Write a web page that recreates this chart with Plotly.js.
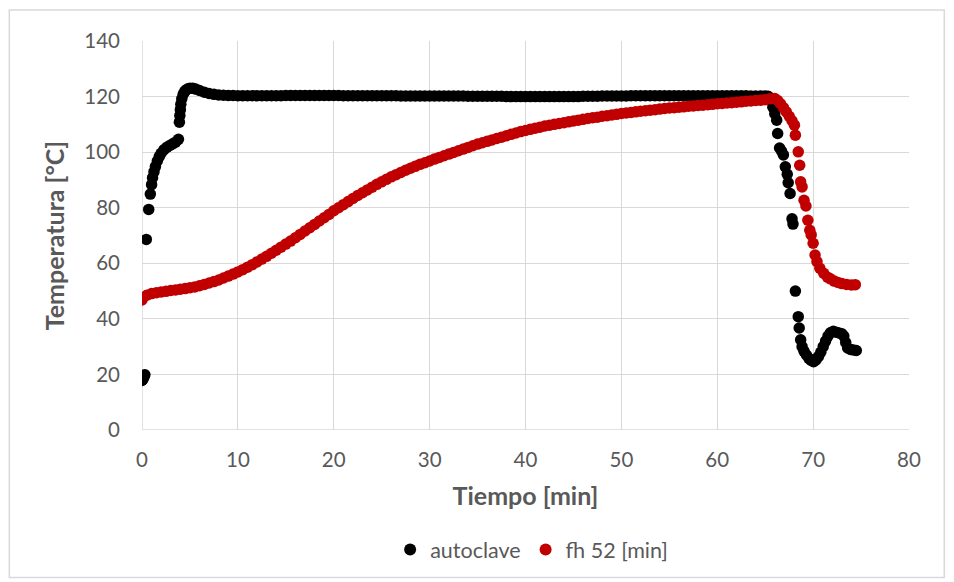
<!DOCTYPE html>
<html>
<head>
<meta charset="utf-8">
<script src="https://cdn.plot.ly/plotly-3.0.1.min.js"></script>
<style>
  html, body { margin: 0; padding: 0; background: #ffffff; }
  #chart { width: 954px; height: 582px; }
</style>
</head>
<body>
<div id="chart"></div>
<script>
// ---- Data ----
const seriesNames = ["autoclave", "fh 52 [min]"];

const autoclaveTime = [
  0, 0.1, 0.2, 0.3, 0.45, 0.7, 0.87, 1.0, 1.1, 1.25, 1.4, 1.6, 1.8, 2.0, 2.3, 2.6, 2.9, 3.2, 3.5, 3.8,
  3.9, 3.95, 4.0, 4.05, 4.15, 4.3, 4.45, 4.6, 4.8, 5.0, 5.3, 5.6, 6.0, 6.5, 7.0, 7.5, 8.0, 8.5,
  9, 9.5, 10, 10.5, 11, 11.5, 12, 12.5, 13, 13.5, 14, 14.5, 15, 15.5, 16, 16.5, 17, 17.5, 18, 18.5,
  19, 19.5, 20, 20.5, 21, 21.5, 22, 22.5, 23, 23.5, 24, 24.5, 25, 25.5, 26, 26.5, 27, 27.5, 28, 28.5,
  29, 29.5, 30, 30.5, 31, 31.5, 32, 32.5, 33, 33.5, 34, 34.5, 35, 35.5, 36, 36.5, 37, 37.5, 38, 38.5,
  39, 39.5, 40, 40.5, 41, 41.5, 42, 42.5, 43, 43.5, 44, 44.5, 45, 45.5, 46, 46.5, 47, 47.5, 48, 48.5,
  49, 49.5, 50, 50.5, 51, 51.5, 52, 52.5, 53, 53.5, 54, 54.5, 55, 55.5, 56, 56.5, 57, 57.5, 58, 58.5,
  59, 59.5, 60, 60.5, 61, 61.5, 62, 62.5, 63, 63.5, 64, 64.5, 65,
  65.3, 65.6, 65.8, 66.0, 66.2, 66.3, 66.5, 66.7, 66.9, 67.1, 67.3, 67.4, 67.6, 67.8, 67.9,
  68.15, 68.45, 68.55, 68.7, 68.85, 69.05, 69.3, 69.55, 69.8, 70.05, 70.3, 70.55, 70.8, 71.05,
  71.3, 71.55, 71.8, 72.1, 72.4, 72.7, 73.0, 73.2, 73.4, 73.6, 73.9, 74.2, 74.5
];
const autoclaveTemp = [
  17.8, 18.3, 19.0, 19.9, 68.6, 79.4, 84.9, 88.3, 90.8, 92.9, 94.8, 96.8, 98.4, 99.6, 100.9, 101.8, 102.4, 103.0, 103.6, 104.6,
  110.8, 113.2, 115.3, 117.2, 119.2, 120.8, 121.8, 122.4, 122.8, 123.0, 123.0, 122.7, 122.2, 121.6, 121.1, 120.8, 120.6, 120.5,
  120.4, 120.4, 120.3, 120.3, 120.3, 120.3, 120.3, 120.3, 120.3, 120.3, 120.3, 120.3, 120.4, 120.4, 120.4, 120.4, 120.4, 120.4, 120.4, 120.4,
  120.4, 120.4, 120.4, 120.4, 120.3, 120.3, 120.3, 120.3, 120.3, 120.3, 120.3, 120.3, 120.3, 120.3, 120.3, 120.3, 120.2, 120.2, 120.2, 120.2,
  120.2, 120.2, 120.2, 120.2, 120.2, 120.2, 120.2, 120.2, 120.2, 120.2, 120.1, 120.1, 120.1, 120.1, 120.1, 120.1, 120.1, 120.1, 120.0, 120.0,
  120.0, 120.0, 120.0, 120.0, 120.0, 120.0, 120.0, 120.0, 120.0, 120.0, 120.0, 120.0, 120.0, 120.0, 120.1, 120.1, 120.1, 120.1, 120.2, 120.2,
  120.2, 120.2, 120.2, 120.2, 120.3, 120.3, 120.3, 120.3, 120.3, 120.3, 120.3, 120.3, 120.3, 120.3, 120.3, 120.3, 120.3, 120.3, 120.3, 120.3,
  120.3, 120.3, 120.3, 120.3, 120.3, 120.3, 120.3, 120.3, 120.3, 120.2, 120.2, 120.2, 120.2,
  120.1, 118.5, 116.2, 113.8, 111.5, 106.7, 101.5, 100.4, 99.0, 94.7, 92.0, 89.0, 85.1, 76.0, 74.1,
  50.0, 40.8, 36.7, 32.5, 30.0, 28.3, 27.0, 25.8, 25.0, 24.6, 25.2, 26.4, 28.0, 30.0,
  32.0, 33.8, 35.0, 35.5, 35.2, 34.9, 34.6, 33.8, 31.5, 29.5, 29.0, 28.8, 28.6
];

const fhTime = [
  0, 0.5, 1, 1.5, 2, 2.5, 3, 3.5, 4, 4.5, 5, 5.5, 6, 6.5, 7, 7.5, 8, 8.5, 9, 9.5,
  10, 10.5, 11, 11.5, 12, 12.5, 13, 13.5, 14, 14.5, 15, 15.5, 16, 16.5, 17, 17.5, 18, 18.5, 19, 19.5,
  20, 20.5, 21, 21.5, 22, 22.5, 23, 23.5, 24, 24.5, 25, 25.5, 26, 26.5, 27, 27.5, 28, 28.5, 29, 29.5,
  30, 30.5, 31, 31.5, 32, 32.5, 33, 33.5, 34, 34.5, 35, 35.5, 36, 36.5, 37, 37.5, 38, 38.5, 39, 39.5,
  40, 40.5, 41, 41.5, 42, 42.5, 43, 43.5, 44, 44.5, 45, 45.5, 46, 46.5, 47, 47.5, 48, 48.5, 49, 49.5,
  50, 50.5, 51, 51.5, 52, 52.5, 53, 53.5, 54, 54.5, 55, 55.5, 56, 56.5, 57, 57.5, 58, 58.5, 59, 59.5,
  60, 60.5, 61, 61.5, 62, 62.5, 63, 63.5, 64, 64.5, 65, 65.5,
  66.0, 66.3, 66.6, 66.9, 67.2, 67.5, 67.8, 68.05, 68.15, 68.45, 68.6, 68.7, 68.85, 69.05, 69.25, 69.45,
  69.65, 69.8, 70.0, 70.2, 70.4, 70.7, 71.1, 71.5, 71.8, 72.2, 72.6, 73.0, 73.5, 74.0, 74.4
];
const fhTemp = [
  46.8, 48.5, 49.1, 49.4, 49.7, 49.9, 50.2, 50.4, 50.7, 50.9, 51.2, 51.5, 51.9, 52.4, 52.9, 53.4, 54.0, 54.7, 55.4, 56.1,
  56.9, 57.7, 58.6, 59.5, 60.5, 61.5, 62.5, 63.6, 64.7, 65.8, 66.9, 68.0, 69.2, 70.4, 71.6, 72.8, 74.0, 75.2, 76.4, 77.6,
  78.9, 80.0, 81.1, 82.2, 83.3, 84.4, 85.4, 86.4, 87.4, 88.4, 89.3, 90.2, 91.1, 91.9, 92.7, 93.5, 94.2, 94.9, 95.6, 96.2,
  96.8, 97.5, 98.1, 98.7, 99.3, 99.9, 100.5, 101.1, 101.7, 102.3, 102.9, 103.4, 103.9, 104.4, 104.9, 105.4, 105.9, 106.4, 106.9, 107.4,
  107.8, 108.2, 108.6, 109.0, 109.4, 109.7, 110.0, 110.3, 110.6, 110.9, 111.2, 111.5, 111.8, 112.1, 112.4, 112.6, 112.9, 113.1, 113.4, 113.6,
  113.9, 114.1, 114.3, 114.5, 114.7, 114.9, 115.1, 115.3, 115.5, 115.7, 115.9, 116.0, 116.2, 116.3, 116.5, 116.6, 116.8, 116.9, 117.1, 117.2,
  117.4, 117.5, 117.7, 117.8, 118.0, 118.1, 118.3, 118.4, 118.6, 118.7, 118.9, 119.2,
  119.3, 118.6, 117.4, 116.0, 114.5, 112.9, 111.3, 109.7, 106.1, 100.1, 95.3, 89.3, 87.5, 82.7, 80.6, 75.5,
  71.9, 70.2, 67.2, 63.0, 60.6, 58.2, 56.4, 55.0, 54.4, 53.6, 53.1, 52.7, 52.4, 52.2, 52.3
];

const xTickVals = [0, 10, 20, 30, 40, 50, 60, 70, 80];
const yTickVals = [0, 20, 40, 60, 80, 100, 120, 140];

// ---- Chart ----
const FONT = "Lato, 'Open Sans', sans-serif";
const GRAY = "#595959";
const GRID = "#d9d9d9";

const traces = [
  {
    x: autoclaveTime, y: autoclaveTemp, name: seriesNames[0],
    type: "scatter", mode: "markers",
    marker: { color: "#000000", size: 11.5 }
  },
  {
    x: fhTime, y: fhTemp, name: seriesNames[1],
    type: "scatter", mode: "markers",
    marker: { color: "#c00000", size: 11.5 }
  }
];

const layout = {
  width: 954, height: 582,
  margin: { l: 141.7, r: 45, t: 41, b: 151.6 },
  paper_bgcolor: "#ffffff", plot_bgcolor: "#ffffff",
  font: { family: FONT, color: GRAY, size: 20 },
  showlegend: true,
  legend: {
    orientation: "h", x: 0.508, y: -0.307, xanchor: "center", yanchor: "middle",
    font: { family: FONT, color: GRAY, size: 21.5 }, itemsizing: "constant"
  },
  xaxis: {
    range: [0, 80], tickvals: xTickVals, ticktext: xTickVals.map(String),
    showgrid: true, gridcolor: GRID, gridwidth: 1,
    zeroline: false, showline: false, ticks: "", ticklabelstandoff: 15,
    tickfont: { family: FONT, color: GRAY, size: 20.5 },
    title: { text: "Tiempo [min]", font: { family: FONT, color: GRAY, size: 25, weight: "bold" }, standoff: 17 }
  },
  yaxis: {
    range: [0, 140], tickvals: yTickVals, ticktext: yTickVals.map(String),
    showgrid: true, gridcolor: GRID, gridwidth: 1,
    zeroline: false, showline: false, ticks: "", ticklabelstandoff: 21,
    tickfont: { family: FONT, color: GRAY, size: 20.5 },
    title: { text: "Temperatura [°C]", font: { family: FONT, color: GRAY, size: 25, weight: "bold" }, standoff: 12 }
  },
  shapes: [
    { type: "line", xref: "x", yref: "y", x0: 0, x1: 0, y0: 0, y1: 140, line: { color: GRID, width: 1.5 }, layer: "below" },
    { type: "line", xref: "x", yref: "y", x0: 0, x1: 80, y0: 0, y1: 0, line: { color: GRID, width: 1.5 }, layer: "below" },
    { type: "rect", xref: "paper", yref: "paper", x0: -0.173, x1: 1.046, y0: -0.379, y1: 1.0796,
      line: { color: "#d9d9d9", width: 1.5 }, fillcolor: "rgba(0,0,0,0)", layer: "below" }
  ]
};

Plotly.newPlot("chart", traces, layout, { displayModeBar: false, staticPlot: true });
</script>
</body>
</html>
